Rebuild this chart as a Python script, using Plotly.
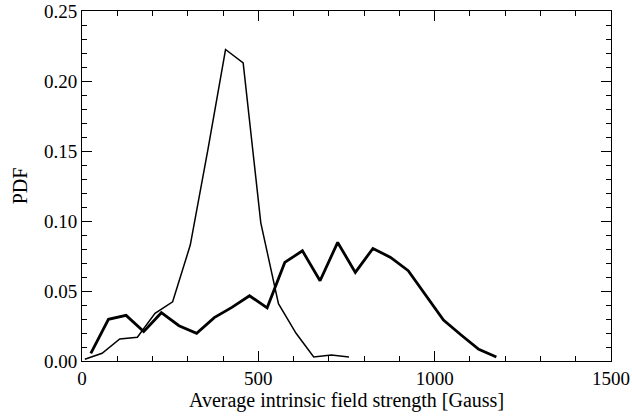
import plotly.graph_objects as go

# Thin curve (narrow distribution)
thin_x = [8, 57, 107, 157, 207, 257, 307, 357, 407, 457, 507, 557, 607, 657, 707, 757]
thin_y = [0.0012, 0.0055, 0.0157, 0.0170, 0.0340, 0.0423, 0.0828, 0.151, 0.2225, 0.2129,
          0.0987, 0.0410, 0.0198, 0.0029, 0.0043, 0.0029]

# Thick curve (broad distribution)
thick_x = [25, 75, 125, 175, 225, 275, 325, 375, 425, 475, 525, 575, 625, 675, 725, 775,
           825, 875, 925, 975, 1025, 1075, 1125, 1175]
thick_y = [0.0055, 0.0298, 0.0326, 0.0210, 0.0345, 0.0252, 0.0198, 0.0310, 0.0383, 0.0466,
           0.0380, 0.0704, 0.0787, 0.0573, 0.0847, 0.0633, 0.0804, 0.0740, 0.0645, 0.0470,
           0.0293, 0.0186, 0.0083, 0.0029]

x_ticks = [0, 500, 1000, 1500]
y_ticks = [0.00, 0.05, 0.10, 0.15, 0.20, 0.25]

fig = go.Figure()
fig.add_trace(go.Scatter(x=thin_x, y=thin_y, mode="lines",
                         line=dict(color="black", width=1.5), showlegend=False))
fig.add_trace(go.Scatter(x=thick_x, y=thick_y, mode="lines",
                         line=dict(color="black", width=2.8), showlegend=False))

family = "Liberation Serif, Times New Roman, serif"
titlefont = dict(family=family, size=20, color="black")
tickfont = dict(family=family, size=19, color="black")

fig.update_layout(
    width=632, height=417,
    margin=dict(l=82, r=21, t=11, b=56),
    paper_bgcolor="white", plot_bgcolor="white",
    font=dict(family=family, size=17, color="black"),
    xaxis=dict(range=[0, 1500], tickvals=x_ticks, ticktext=[str(v) for v in x_ticks],
               ticks="inside", ticklen=10, tickwidth=1, tickcolor="black",
               showline=True, linecolor="black", linewidth=1, mirror="allticks",
               showgrid=False, zeroline=False, automargin=False,
               minor=dict(dtick=100, ticks="inside", ticklen=5, tickcolor="black", showgrid=False),
               title=dict(text="Average intrinsic field strength [Gauss]", standoff=2, font=titlefont),
               tickfont=tickfont),
    yaxis=dict(range=[0, 0.25], tickvals=y_ticks, tickformat=".2f",
               ticks="inside", ticklen=10, tickwidth=1, tickcolor="black",
               showline=True, linecolor="black", linewidth=1, mirror="allticks",
               showgrid=False, zeroline=False, automargin=False,
               minor=dict(dtick=0.01, ticks="inside", ticklen=5, tickcolor="black", showgrid=False),
               title=dict(text="PDF", standoff=10, font=titlefont),
               tickfont=tickfont),
)

fig.write_html("out.html", config={"displayModeBar": False},
               post_script="document.body.style.margin='0px';")
